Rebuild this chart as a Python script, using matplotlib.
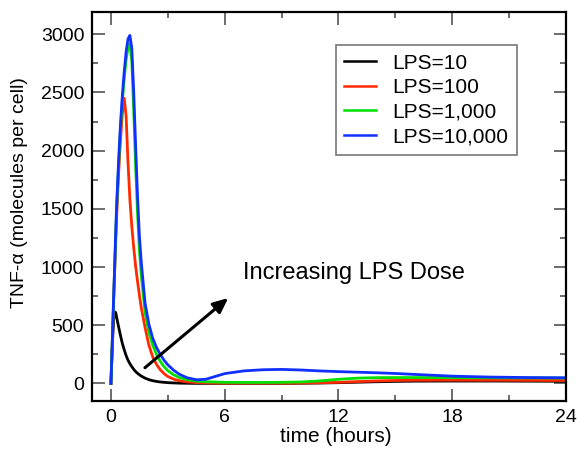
import matplotlib
matplotlib.use("Agg")
import matplotlib.pyplot as plt
from matplotlib.ticker import MultipleLocator

plt.rcParams['font.family'] = ['Liberation Sans', 'DejaVu Sans']

# time grid (hours)
hours = [0, 0.05, 0.1, 0.15, 0.2, 0.25, 0.3, 0.4, 0.5, 0.6, 0.7, 0.8, 0.9, 1.0,
         1.1, 1.2, 1.3, 1.4, 1.5, 1.6, 1.8, 2.0, 2.2, 2.4, 2.6, 2.8, 3.0, 3.3,
         3.6, 4.0, 4.5, 5, 6, 7, 8, 9, 10, 11, 12, 13, 14, 15, 16, 18, 20, 22, 24]

lps_10 = [0, 230, 420, 560, 615, 610, 570, 490, 415, 345, 290, 240, 200, 170,
          145, 122, 103, 88, 75, 64, 46, 33, 24, 18, 13, 10, 7, 5,
          3, 2, 1, 1, 1, 1, 1, 1, 2, 4, 7, 11, 15, 18, 20, 21, 21, 20, 19]

lps_100 = [0, 240, 490, 740, 980, 1210, 1430, 1790, 2080, 2320, 2450, 2300, 1900, 1580,
           1350, 1170, 1010, 880, 760, 650, 480, 330, 230, 165, 118, 85, 60, 38,
           24, 14, 8, 5, 3, 3, 3, 3, 4, 6, 10, 16, 22, 26, 28, 29, 28, 27, 26]

lps_1000 = [0, 245, 510, 765, 1010, 1260, 1500, 1860, 2170, 2420, 2620, 2780, 2880, 2920,
            2770, 2350, 1880, 1470, 1150, 930, 610, 440, 330, 250, 190, 145, 110, 75,
            52, 33, 20, 15, 10, 9, 9, 10, 13, 22, 36, 46, 50, 51, 51, 50, 49, 48, 47]

lps_10000 = [0, 250, 520, 780, 1030, 1290, 1530, 1900, 2220, 2470, 2680, 2850, 2960, 2990,
             2880, 2510, 2050, 1620, 1270, 1040, 690, 510, 390, 310, 250, 200, 160, 115,
             80, 50, 32, 36, 85, 108, 118, 121, 116, 108, 102, 97, 92, 86, 78, 63, 55, 51, 49]

labels = ['LPS=10', 'LPS=100', 'LPS=1,000', 'LPS=10,000']
colors = ['#000000', '#ff2a00', '#00e000', '#1030ff']

fig = plt.figure(figsize=(5.77, 4.5), dpi=100)
ax = fig.add_axes([0.1594, 0.109, 0.8216, 0.864])

for series, lab, col in zip([lps_10, lps_100, lps_1000, lps_10000], labels, colors):
    ax.plot(hours, series, color=col, lw=2.0, label=lab)

ax.set_xlim(-1, 24)
ax.set_ylim(-150, 3190)
ax.xaxis.set_major_locator(MultipleLocator(6))
ax.xaxis.set_minor_locator(MultipleLocator(3))
ax.yaxis.set_major_locator(MultipleLocator(500))
ax.yaxis.set_minor_locator(MultipleLocator(250))
ax.tick_params(which='both', direction='in', top=True, right=True,
               color='#606060', width=1.3, labelsize=14)
ax.tick_params(which='major', length=9)
ax.tick_params(which='minor', length=4.5)
ax.tick_params(axis='y', pad=5.5)
ax.tick_params(axis='x', pad=6)
for sp in ax.spines.values():
    sp.set_linewidth(1.6)

ax.set_xlabel('time (hours)', fontsize=15)
ax.xaxis.set_label_coords(0.515, -0.068)
ax.set_ylabel('TNF-α (molecules per cell)', fontsize=14)
ax.yaxis.set_label_coords(-0.135, 0.535)

ax.annotate('', xy=(6.3, 750), xytext=(1.68, 120),
            arrowprops=dict(arrowstyle='-|>,head_length=0.9,head_width=0.4',
                            color='black', lw=2.2))
ax.text(6.95, 950, 'Increasing LPS Dose', fontsize=17, va='center', ha='left')

leg = ax.legend(loc='upper left', bbox_to_anchor=(0.515, 0.915), fontsize=15,
                frameon=True, fancybox=False, edgecolor='#555555',
                handlelength=1.5, handletextpad=0.8, labelspacing=0.27,
                borderpad=0.4, borderaxespad=0)
leg.get_frame().set_linewidth(1.2)
for line in leg.get_lines():
    line.set_linewidth(1.8)

fig.savefig('out.png', dpi=100)
